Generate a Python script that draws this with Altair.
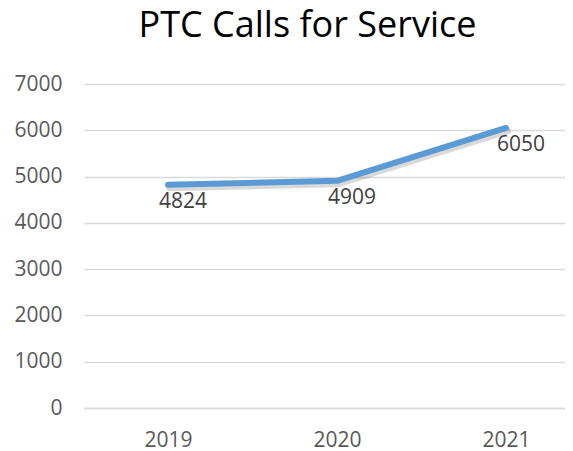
import altair as alt
import pandas as pd

years = [2019, 2020, 2021]
calls = [4824, 4909, 6050]
y_ticks = [0, 1000, 2000, 3000, 4000, 5000, 6000, 7000]

df = pd.DataFrame({"year": years, "calls": calls})

FONT = "Open Sans"

x_enc = alt.X(
    "year:Q",
    scale=alt.Scale(domain=[2018.503, 2021.349], nice=False, zero=False),
    axis=alt.Axis(
        title=None, values=years, format="d", labelAngle=0, ticks=False, domain=True,
        domainColor="#D9D9D9", domainWidth=1.5, labelFont=FONT, labelFontSize=21,
        labelColor="#595959", labelPadding=21, grid=False, labelFlush=False,
    ),
)
y_enc = alt.Y(
    "calls:Q",
    scale=alt.Scale(domain=[0, 7000], nice=False),
    axis=alt.Axis(
        title=None, values=y_ticks, format="d", ticks=False, domain=False, grid=True,
        gridColor="#D9D9D9", gridWidth=1.5, labelFont=FONT, labelFontSize=21,
        labelColor="#595959", labelPadding=22,
    ),
)

base = alt.Chart(df)

shadow = base.mark_line(
    color="black", opacity=0.15, strokeWidth=7, strokeCap="round", strokeJoin="round",
    xOffset=1.5, yOffset=3,
).encode(x=x_enc, y=y_enc)

line = base.mark_line(
    color="#5B9BD5", strokeWidth=6, strokeCap="round", strokeJoin="round",
).encode(x=x_enc, y=y_enc)

labels = base.mark_text(
    font=FONT, fontSize=21, color="#404040", dx=15, dy=17, baseline="middle", align="center",
).encode(x=x_enc, y=y_enc, text=alt.Text("calls:Q", format="d"))

chart = alt.layer(shadow, line, labels).properties(
    width=481,
    height=324,
    title=alt.TitleParams(
        text="PTC Calls for Service", font=FONT, fontSize=36, fontWeight="normal",
        color="#000000", anchor="middle", dx=-17, offset=28,
    ),
    autosize=alt.AutoSizeParams(type="none"),
    padding={"left": 76, "top": 76, "right": 0, "bottom": 43},
    background="white",
).configure_view(stroke=None)

chart.save("out.html", embed_options={"renderer": "svg", "actions": False})
